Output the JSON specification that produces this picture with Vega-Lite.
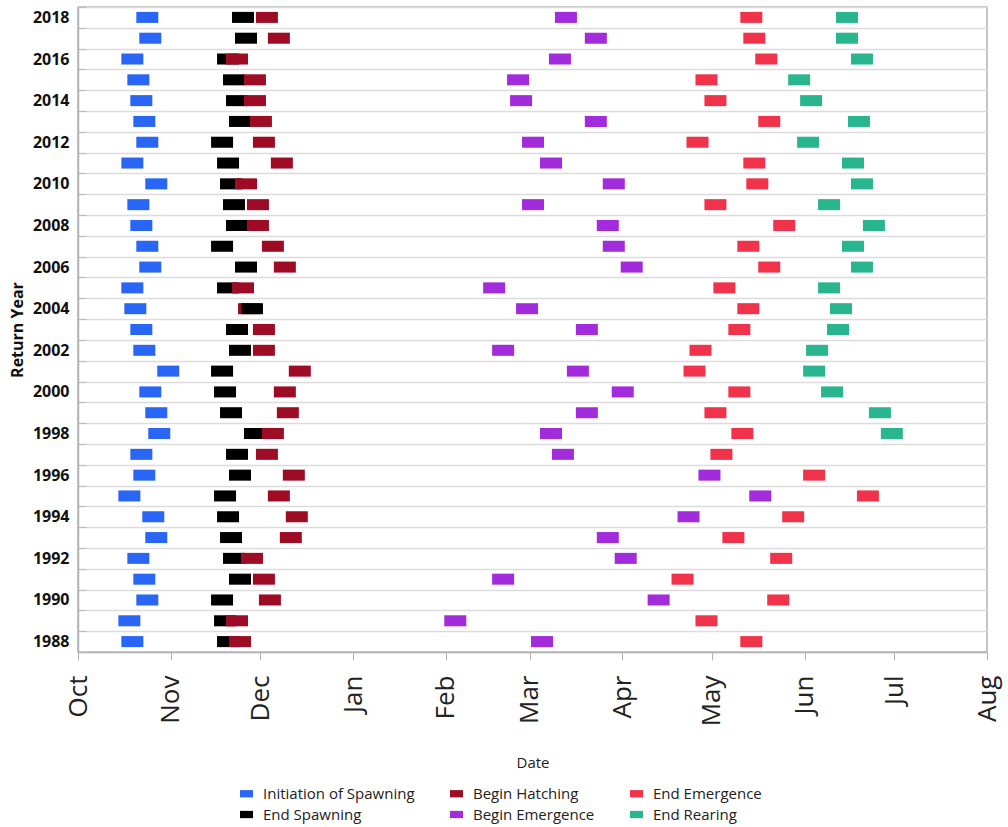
{
  "$schema": "https://vega.github.io/schema/vega-lite/v6.json",
  "width": 909,
  "height": 645,
  "autosize": {"type": "none"},
  "padding": {"left": 78, "top": 7, "right": 21, "bottom": 175},
  "background": "white",
  "data": {"values": [
    {"year":2018,"event":"Initiation of Spawning","date":"2001-10-20T12:00"},
    {"year":2018,"event":"End Spawning","date":"2001-11-21T12:00"},
    {"year":2018,"event":"Begin Hatching","date":"2001-11-29T12:00"},
    {"year":2018,"event":"Begin Emergence","date":"2002-03-09T12:00"},
    {"year":2018,"event":"End Emergence","date":"2002-05-10T12:00"},
    {"year":2018,"event":"End Rearing","date":"2002-06-11T12:00"},
    {"year":2017,"event":"Initiation of Spawning","date":"2001-10-21T12:00"},
    {"year":2017,"event":"End Spawning","date":"2001-11-22T12:00"},
    {"year":2017,"event":"Begin Hatching","date":"2001-12-03T12:00"},
    {"year":2017,"event":"Begin Emergence","date":"2002-03-19T12:00"},
    {"year":2017,"event":"End Emergence","date":"2002-05-11T12:00"},
    {"year":2017,"event":"End Rearing","date":"2002-06-11T12:00"},
    {"year":2016,"event":"Initiation of Spawning","date":"2001-10-15T12:00"},
    {"year":2016,"event":"End Spawning","date":"2001-11-16T12:00"},
    {"year":2016,"event":"Begin Hatching","date":"2001-11-19T12:00"},
    {"year":2016,"event":"Begin Emergence","date":"2002-03-07T12:00"},
    {"year":2016,"event":"End Emergence","date":"2002-05-15T12:00"},
    {"year":2016,"event":"End Rearing","date":"2002-06-16T12:00"},
    {"year":2015,"event":"Initiation of Spawning","date":"2001-10-17T12:00"},
    {"year":2015,"event":"End Spawning","date":"2001-11-18T12:00"},
    {"year":2015,"event":"Begin Hatching","date":"2001-11-25T12:00"},
    {"year":2015,"event":"Begin Emergence","date":"2002-02-21T12:00"},
    {"year":2015,"event":"End Emergence","date":"2002-04-25T12:00"},
    {"year":2015,"event":"End Rearing","date":"2002-05-26T12:00"},
    {"year":2014,"event":"Initiation of Spawning","date":"2001-10-18T12:00"},
    {"year":2014,"event":"End Spawning","date":"2001-11-19T12:00"},
    {"year":2014,"event":"Begin Hatching","date":"2001-11-25T12:00"},
    {"year":2014,"event":"Begin Emergence","date":"2002-02-22T12:00"},
    {"year":2014,"event":"End Emergence","date":"2002-04-28T12:00"},
    {"year":2014,"event":"End Rearing","date":"2002-05-30T12:00"},
    {"year":2013,"event":"Initiation of Spawning","date":"2001-10-19T12:00"},
    {"year":2013,"event":"End Spawning","date":"2001-11-20T12:00"},
    {"year":2013,"event":"Begin Hatching","date":"2001-11-27T12:00"},
    {"year":2013,"event":"Begin Emergence","date":"2002-03-19T12:00"},
    {"year":2013,"event":"End Emergence","date":"2002-05-16T12:00"},
    {"year":2013,"event":"End Rearing","date":"2002-06-15T12:00"},
    {"year":2012,"event":"Initiation of Spawning","date":"2001-10-20T12:00"},
    {"year":2012,"event":"End Spawning","date":"2001-11-14T12:00"},
    {"year":2012,"event":"Begin Hatching","date":"2001-11-28T12:00"},
    {"year":2012,"event":"Begin Emergence","date":"2002-02-26T12:00"},
    {"year":2012,"event":"End Emergence","date":"2002-04-22T12:00"},
    {"year":2012,"event":"End Rearing","date":"2002-05-29T12:00"},
    {"year":2011,"event":"Initiation of Spawning","date":"2001-10-15T12:00"},
    {"year":2011,"event":"End Spawning","date":"2001-11-16T12:00"},
    {"year":2011,"event":"Begin Hatching","date":"2001-12-04T12:00"},
    {"year":2011,"event":"Begin Emergence","date":"2002-03-04T12:00"},
    {"year":2011,"event":"End Emergence","date":"2002-05-11T12:00"},
    {"year":2011,"event":"End Rearing","date":"2002-06-13T12:00"},
    {"year":2010,"event":"Initiation of Spawning","date":"2001-10-23T12:00"},
    {"year":2010,"event":"End Spawning","date":"2001-11-17T12:00"},
    {"year":2010,"event":"Begin Hatching","date":"2001-11-22T12:00"},
    {"year":2010,"event":"Begin Emergence","date":"2002-03-25T12:00"},
    {"year":2010,"event":"End Emergence","date":"2002-05-12T12:00"},
    {"year":2010,"event":"End Rearing","date":"2002-06-16T12:00"},
    {"year":2009,"event":"Initiation of Spawning","date":"2001-10-17T12:00"},
    {"year":2009,"event":"End Spawning","date":"2001-11-18T12:00"},
    {"year":2009,"event":"Begin Hatching","date":"2001-11-26T12:00"},
    {"year":2009,"event":"Begin Emergence","date":"2002-02-26T12:00"},
    {"year":2009,"event":"End Emergence","date":"2002-04-28T12:00"},
    {"year":2009,"event":"End Rearing","date":"2002-06-05T12:00"},
    {"year":2008,"event":"Initiation of Spawning","date":"2001-10-18T12:00"},
    {"year":2008,"event":"End Spawning","date":"2001-11-19T12:00"},
    {"year":2008,"event":"Begin Hatching","date":"2001-11-26T12:00"},
    {"year":2008,"event":"Begin Emergence","date":"2002-03-23T12:00"},
    {"year":2008,"event":"End Emergence","date":"2002-05-21T12:00"},
    {"year":2008,"event":"End Rearing","date":"2002-06-20T12:00"},
    {"year":2007,"event":"Initiation of Spawning","date":"2001-10-20T12:00"},
    {"year":2007,"event":"End Spawning","date":"2001-11-14T12:00"},
    {"year":2007,"event":"Begin Hatching","date":"2001-12-01T12:00"},
    {"year":2007,"event":"Begin Emergence","date":"2002-03-25T12:00"},
    {"year":2007,"event":"End Emergence","date":"2002-05-09T12:00"},
    {"year":2007,"event":"End Rearing","date":"2002-06-13T12:00"},
    {"year":2006,"event":"Initiation of Spawning","date":"2001-10-21T12:00"},
    {"year":2006,"event":"End Spawning","date":"2001-11-22T12:00"},
    {"year":2006,"event":"Begin Hatching","date":"2001-12-05T12:00"},
    {"year":2006,"event":"Begin Emergence","date":"2002-03-31T12:00"},
    {"year":2006,"event":"End Emergence","date":"2002-05-16T12:00"},
    {"year":2006,"event":"End Rearing","date":"2002-06-16T12:00"},
    {"year":2005,"event":"Initiation of Spawning","date":"2001-10-15T12:00"},
    {"year":2005,"event":"End Spawning","date":"2001-11-16T12:00"},
    {"year":2005,"event":"Begin Hatching","date":"2001-11-21T12:00"},
    {"year":2005,"event":"Begin Emergence","date":"2002-02-13T12:00"},
    {"year":2005,"event":"End Emergence","date":"2002-05-01T12:00"},
    {"year":2005,"event":"End Rearing","date":"2002-06-05T12:00"},
    {"year":2004,"event":"Initiation of Spawning","date":"2001-10-16T12:00"},
    {"year":2004,"event":"Begin Hatching","date":"2001-11-23T12:00"},
    {"year":2004,"event":"End Spawning","date":"2001-11-24T12:00"},
    {"year":2004,"event":"Begin Emergence","date":"2002-02-24T12:00"},
    {"year":2004,"event":"End Emergence","date":"2002-05-09T12:00"},
    {"year":2004,"event":"End Rearing","date":"2002-06-09T12:00"},
    {"year":2003,"event":"Initiation of Spawning","date":"2001-10-18T12:00"},
    {"year":2003,"event":"End Spawning","date":"2001-11-19T12:00"},
    {"year":2003,"event":"Begin Hatching","date":"2001-11-28T12:00"},
    {"year":2003,"event":"Begin Emergence","date":"2002-03-16T12:00"},
    {"year":2003,"event":"End Emergence","date":"2002-05-06T12:00"},
    {"year":2003,"event":"End Rearing","date":"2002-06-08T12:00"},
    {"year":2002,"event":"Initiation of Spawning","date":"2001-10-19T12:00"},
    {"year":2002,"event":"End Spawning","date":"2001-11-20T12:00"},
    {"year":2002,"event":"Begin Hatching","date":"2001-11-28T12:00"},
    {"year":2002,"event":"Begin Emergence","date":"2002-02-16T12:00"},
    {"year":2002,"event":"End Emergence","date":"2002-04-23T12:00"},
    {"year":2002,"event":"End Rearing","date":"2002-06-01T12:00"},
    {"year":2001,"event":"Initiation of Spawning","date":"2001-10-27T12:00"},
    {"year":2001,"event":"End Spawning","date":"2001-11-14T12:00"},
    {"year":2001,"event":"Begin Hatching","date":"2001-12-10T12:00"},
    {"year":2001,"event":"Begin Emergence","date":"2002-03-13T12:00"},
    {"year":2001,"event":"End Emergence","date":"2002-04-21T12:00"},
    {"year":2001,"event":"End Rearing","date":"2002-05-31T12:00"},
    {"year":2000,"event":"Initiation of Spawning","date":"2001-10-21T12:00"},
    {"year":2000,"event":"End Spawning","date":"2001-11-15T12:00"},
    {"year":2000,"event":"Begin Hatching","date":"2001-12-05T12:00"},
    {"year":2000,"event":"Begin Emergence","date":"2002-03-28T12:00"},
    {"year":2000,"event":"End Emergence","date":"2002-05-06T12:00"},
    {"year":2000,"event":"End Rearing","date":"2002-06-06T12:00"},
    {"year":1999,"event":"Initiation of Spawning","date":"2001-10-23T12:00"},
    {"year":1999,"event":"End Spawning","date":"2001-11-17T12:00"},
    {"year":1999,"event":"Begin Hatching","date":"2001-12-06T12:00"},
    {"year":1999,"event":"Begin Emergence","date":"2002-03-16T12:00"},
    {"year":1999,"event":"End Emergence","date":"2002-04-28T12:00"},
    {"year":1999,"event":"End Rearing","date":"2002-06-22T12:00"},
    {"year":1998,"event":"Initiation of Spawning","date":"2001-10-24T12:00"},
    {"year":1998,"event":"End Spawning","date":"2001-11-25T12:00"},
    {"year":1998,"event":"Begin Hatching","date":"2001-12-01T12:00"},
    {"year":1998,"event":"Begin Emergence","date":"2002-03-04T12:00"},
    {"year":1998,"event":"End Emergence","date":"2002-05-07T12:00"},
    {"year":1998,"event":"End Rearing","date":"2002-06-26T12:00"},
    {"year":1997,"event":"Initiation of Spawning","date":"2001-10-18T12:00"},
    {"year":1997,"event":"End Spawning","date":"2001-11-19T12:00"},
    {"year":1997,"event":"Begin Hatching","date":"2001-11-29T12:00"},
    {"year":1997,"event":"Begin Emergence","date":"2002-03-08T12:00"},
    {"year":1997,"event":"End Emergence","date":"2002-04-30T12:00"},
    {"year":1996,"event":"Initiation of Spawning","date":"2001-10-19T12:00"},
    {"year":1996,"event":"End Spawning","date":"2001-11-20T12:00"},
    {"year":1996,"event":"Begin Hatching","date":"2001-12-08T12:00"},
    {"year":1996,"event":"Begin Emergence","date":"2002-04-26T12:00"},
    {"year":1996,"event":"End Emergence","date":"2002-05-31T12:00"},
    {"year":1995,"event":"Initiation of Spawning","date":"2001-10-14T12:00"},
    {"year":1995,"event":"End Spawning","date":"2001-11-15T12:00"},
    {"year":1995,"event":"Begin Hatching","date":"2001-12-03T12:00"},
    {"year":1995,"event":"Begin Emergence","date":"2002-05-13T12:00"},
    {"year":1995,"event":"End Emergence","date":"2002-06-18T12:00"},
    {"year":1994,"event":"Initiation of Spawning","date":"2001-10-22T12:00"},
    {"year":1994,"event":"End Spawning","date":"2001-11-16T12:00"},
    {"year":1994,"event":"Begin Hatching","date":"2001-12-09T12:00"},
    {"year":1994,"event":"Begin Emergence","date":"2002-04-19T12:00"},
    {"year":1994,"event":"End Emergence","date":"2002-05-24T12:00"},
    {"year":1993,"event":"Initiation of Spawning","date":"2001-10-23T12:00"},
    {"year":1993,"event":"End Spawning","date":"2001-11-17T12:00"},
    {"year":1993,"event":"Begin Hatching","date":"2001-12-07T12:00"},
    {"year":1993,"event":"Begin Emergence","date":"2002-03-23T12:00"},
    {"year":1993,"event":"End Emergence","date":"2002-05-04T12:00"},
    {"year":1992,"event":"Initiation of Spawning","date":"2001-10-17T12:00"},
    {"year":1992,"event":"End Spawning","date":"2001-11-18T12:00"},
    {"year":1992,"event":"Begin Hatching","date":"2001-11-24T12:00"},
    {"year":1992,"event":"Begin Emergence","date":"2002-03-29T12:00"},
    {"year":1992,"event":"End Emergence","date":"2002-05-20T12:00"},
    {"year":1991,"event":"Initiation of Spawning","date":"2001-10-19T12:00"},
    {"year":1991,"event":"End Spawning","date":"2001-11-20T12:00"},
    {"year":1991,"event":"Begin Hatching","date":"2001-11-28T12:00"},
    {"year":1991,"event":"Begin Emergence","date":"2002-02-16T12:00"},
    {"year":1991,"event":"End Emergence","date":"2002-04-17T12:00"},
    {"year":1990,"event":"Initiation of Spawning","date":"2001-10-20T12:00"},
    {"year":1990,"event":"End Spawning","date":"2001-11-14T12:00"},
    {"year":1990,"event":"Begin Hatching","date":"2001-11-30T12:00"},
    {"year":1990,"event":"Begin Emergence","date":"2002-04-09T12:00"},
    {"year":1990,"event":"End Emergence","date":"2002-05-19T12:00"},
    {"year":1989,"event":"Initiation of Spawning","date":"2001-10-14T12:00"},
    {"year":1989,"event":"End Spawning","date":"2001-11-15T12:00"},
    {"year":1989,"event":"Begin Hatching","date":"2001-11-19T12:00"},
    {"year":1989,"event":"Begin Emergence","date":"2002-01-31T12:00"},
    {"year":1989,"event":"End Emergence","date":"2002-04-25T12:00"},
    {"year":1988,"event":"Initiation of Spawning","date":"2001-10-15T12:00"},
    {"year":1988,"event":"End Spawning","date":"2001-11-16T12:00"},
    {"year":1988,"event":"Begin Hatching","date":"2001-11-20T12:00"},
    {"year":1988,"event":"Begin Emergence","date":"2002-03-01T12:00"},
    {"year":1988,"event":"End Emergence","date":"2002-05-10T12:00"}
  ]},
  "mark": {"type": "bar", "height": {"band": 0.53}, "x2Offset": 22},
  "encoding": {
    "x": {
      "field": "date", "type": "temporal",
      "scale": {"domain": ["2001-10-01T00:00", "2002-08-01T00:00"], "nice": false},
      "axis": {
        "title": "Date", "format": "%b",
        "tickCount": {"interval": "month", "step": 1},
        "labelAngle": -90, "labelFontSize": 26, "labelColor": "#222222",
        "labelPadding": 15, "tickSize": 8, "tickColor": "#b3b3b3",
        "domainColor": "#b3b3b3", "domainWidth": 1.5, "grid": false,
        "labelFlush": false, "labelOverlap": false,
        "titleFontSize": 15, "titleFontWeight": "normal", "titleColor": "#222222",
        "titlePadding": 30
      }
    },
    "x2": {"field": "date"},
    "y": {
      "field": "year", "type": "ordinal", "sort": "descending",
      "scale": {"paddingInner": 0, "paddingOuter": 0},
      "axis": {
        "title": "Return Year",
        "labelExpr": "datum.value % 2 == 0 ? datum.label : ''",
        "labelFontWeight": "bold", "labelFontSize": 16, "labelColor": "#111111",
        "tickBand": "extent", "grid": true, "gridColor": "#dcdcdc", "gridWidth": 1.5,
        "tickSize": -8, "tickColor": "#bdbdbd", "labelPadding": 17,
        "domainColor": "#b3b3b3", "domainWidth": 1.5,
        "titleFontSize": 16, "titleFontWeight": "bold", "titleColor": "#111111",
        "titlePadding": 7
      }
    },
    "color": {
      "field": "event", "type": "nominal",
      "scale": {
        "domain": ["Initiation of Spawning", "Begin Hatching", "End Emergence", "End Spawning", "Begin Emergence", "End Rearing"],
        "range": ["#2a66f5", "#9e0b25", "#f0334a", "#000000", "#a22bdc", "#29b68f"]
      },
      "legend": {
        "orient": "none", "legendX": 161, "legendY": 779, "padding": 0,
        "title": null, "columns": 3, "direction": "horizontal",
        "symbolType": "M-1,-0.56H1V0.56H-1Z", "symbolSize": 169, "symbolStrokeWidth": 0,
        "labelFontSize": 15, "labelOffset": 9, "labelColor": "#222222",
        "columnPadding": 34, "rowPadding": 5
      }
    }
  },
  "config": {
    "font": "Open Sans",
    "view": {"stroke": "#b3b3b3", "strokeWidth": 1.5}
  }
}
